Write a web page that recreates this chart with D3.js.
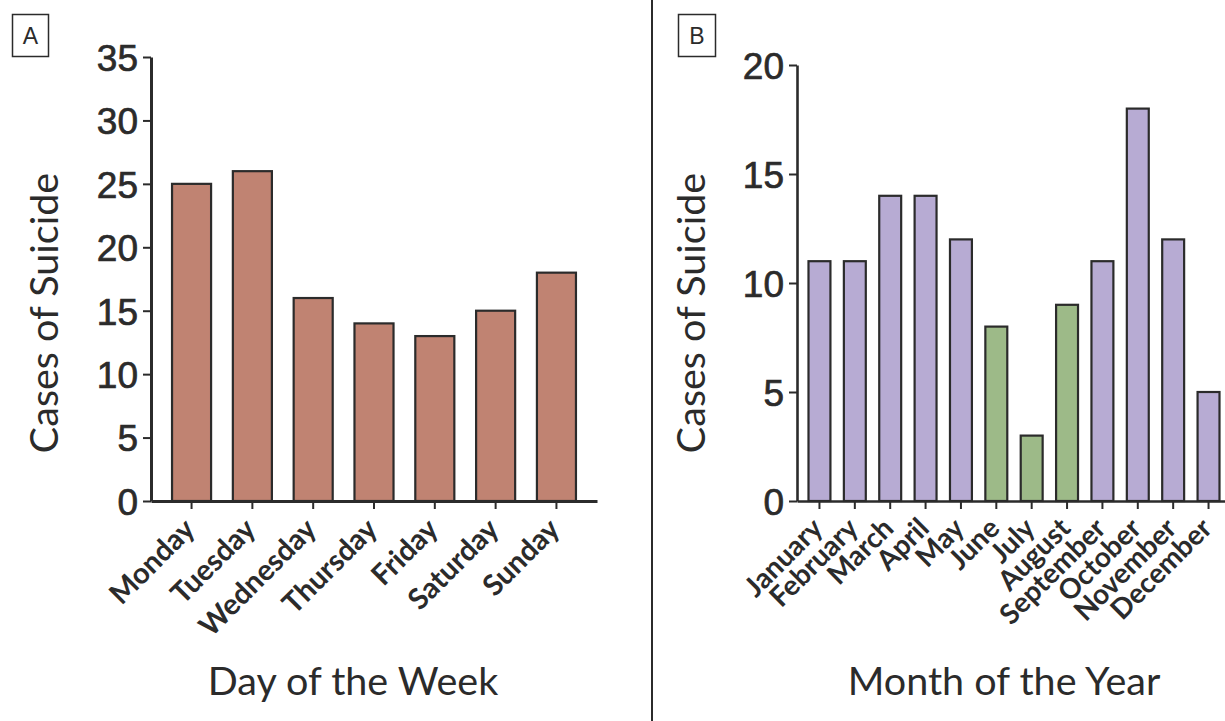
<!DOCTYPE html>
<html>
<head>
<meta charset="utf-8">
<script src="https://cdn.jsdelivr.net/npm/d3@7"></script>
<style>
  body { margin: 0; background: #fff; }
  svg { display: block; }
</style>
</head>
<body>
<svg id="chart" width="1225" height="721"></svg>
<script>
// Panel A: cases by day of the week
const days = ["Monday", "Tuesday", "Wednesday", "Thursday", "Friday", "Saturday", "Sunday"];
const dayCases = [25, 26, 16, 14, 13, 15, 18];
const dayTicks = [0, 5, 10, 15, 20, 25, 30, 35];

// Panel B: cases by month of the year
const months = ["January", "February", "March", "April", "May", "June", "July",
                "August", "September", "October", "November", "December"];
const monthCases = [11, 11, 14, 14, 12, 8, 3, 9, 11, 18, 12, 5];
const monthTicks = [0, 5, 10, 15, 20];
const summerMonths = ["June", "July", "August"];

const INK = "#2b2b2b";
const TITLE_FONT = "Lato, 'Noto Sans', sans-serif";
const NUM_FONT = "'Liberation Sans', Arial, sans-serif";

const svg = d3.select("#chart");

function drawPanel(opts) {
  const g = svg.append("g");
  const x = d3.scaleBand()
    .domain(opts.categories)
    .range(opts.xRange)
    .paddingInner(opts.padInner)
    .paddingOuter(opts.padOuter);
  const y = d3.scaleLinear()
    .domain([0, d3.max(opts.ticks)])
    .range(opts.yRange);

  // bars
  g.selectAll("rect.bar")
    .data(opts.values)
    .join("rect")
    .attr("class", "bar")
    .attr("x", (d, i) => x(opts.categories[i]))
    .attr("y", d => y(d))
    .attr("width", x.bandwidth())
    .attr("height", d => y(0) - y(d))
    .attr("fill", (d, i) => opts.color(opts.categories[i]))
    .attr("stroke", INK)
    .attr("stroke-width", 2.2);

  // y axis
  const yAxis = g.append("g")
    .attr("transform", `translate(${opts.xRange[0]},0)`)
    .call(d3.axisLeft(y).tickValues(opts.ticks).tickSize(8).tickSizeOuter(0).tickPadding(5));
  yAxis.select(".domain").attr("stroke", INK).attr("stroke-width", opts.axisWidth);
  yAxis.selectAll(".tick line").attr("stroke", INK).attr("stroke-width", 2);
  yAxis.selectAll(".tick text")
    .attr("font-family", NUM_FONT)
    .attr("font-size", 37)
    .attr("fill", INK)
    .attr("stroke", INK)
    .attr("stroke-width", 0.7)
    .attr("dy", "0.36em");

  // x axis
  const xAxis = g.append("g")
    .attr("transform", `translate(0,${opts.yRange[0]})`)
    .call(d3.axisBottom(x).tickSize(8).tickSizeOuter(0));
  xAxis.select(".domain").attr("stroke", INK).attr("stroke-width", opts.axisWidth);
  xAxis.selectAll(".tick line").attr("stroke", INK).attr("stroke-width", 2);
  xAxis.selectAll(".tick text")
    .attr("font-family", TITLE_FONT)
    .attr("font-weight", 700)
    .attr("font-size", opts.labelSize)
    .attr("fill", INK)
    .attr("text-anchor", "end")
    .attr("y", 0)
    .attr("dy", 0)
    .attr("transform", `translate(${opts.labelShift[0]},${opts.labelShift[1]}) rotate(-45)`);

  // axis titles
  g.append("text")
    .attr("x", opts.xTitlePos[0])
    .attr("y", opts.xTitlePos[1])
    .attr("text-anchor", "middle")
    .attr("font-family", TITLE_FONT)
    .attr("font-size", 39.5)
    .attr("fill", INK)
    .text(opts.xTitle);

  g.append("text")
    .attr("transform", `translate(${opts.yTitlePos[0]},${opts.yTitlePos[1]}) rotate(-90)`)
    .attr("text-anchor", "middle")
    .attr("font-family", TITLE_FONT)
    .attr("font-size", 39.5)
    .attr("fill", INK)
    .text("Cases of Suicide");

  // panel letter box
  g.append("rect")
    .attr("x", opts.box[0]).attr("y", opts.box[1])
    .attr("width", opts.box[2]).attr("height", opts.box[3])
    .attr("fill", "none").attr("stroke", INK).attr("stroke-width", 1.5);
  g.append("text")
    .attr("x", opts.box[0] + opts.box[2] / 2)
    .attr("y", opts.box[1] + opts.box[3] / 2 + 8)
    .attr("text-anchor", "middle")
    .attr("font-family", NUM_FONT)
    .attr("font-size", 23)
    .attr("fill", INK)
    .text(opts.letter);
}

drawPanel({
  categories: days,
  values: dayCases,
  ticks: dayTicks,
  xRange: [151, 597],
  yRange: [501, 57],
  padInner: 0.358,
  padOuter: 0.346,
  axisWidth: 3,
  color: () => "#c08372",
  labelSize: 29,
  labelShift: [5, 30],
  xTitle: "Day of the Week",
  xTitlePos: [353, 695],
  yTitlePos: [58, 313],
  box: [12.5, 14.5, 36, 42],
  letter: "A"
});

drawPanel({
  categories: months,
  values: monthCases,
  ticks: monthTicks,
  xRange: [797, 1231],
  yRange: [501, 65],
  padInner: 0.38,
  padOuter: 0.325,
  axisWidth: 2.6,
  color: m => summerMonths.includes(m) ? "#9dba88" : "#b7abd3",
  labelSize: 28,
  labelShift: [5, 29],
  xTitle: "Month of the Year",
  xTitlePos: [1004, 695],
  yTitlePos: [705, 313],
  box: [678.5, 14.5, 37, 42],
  letter: "B"
});

// divider between the two panels
svg.append("line")
  .attr("x1", 652).attr("x2", 652)
  .attr("y1", 0).attr("y2", 721)
  .attr("stroke", INK)
  .attr("stroke-width", 2);
</script>
</body>
</html>
